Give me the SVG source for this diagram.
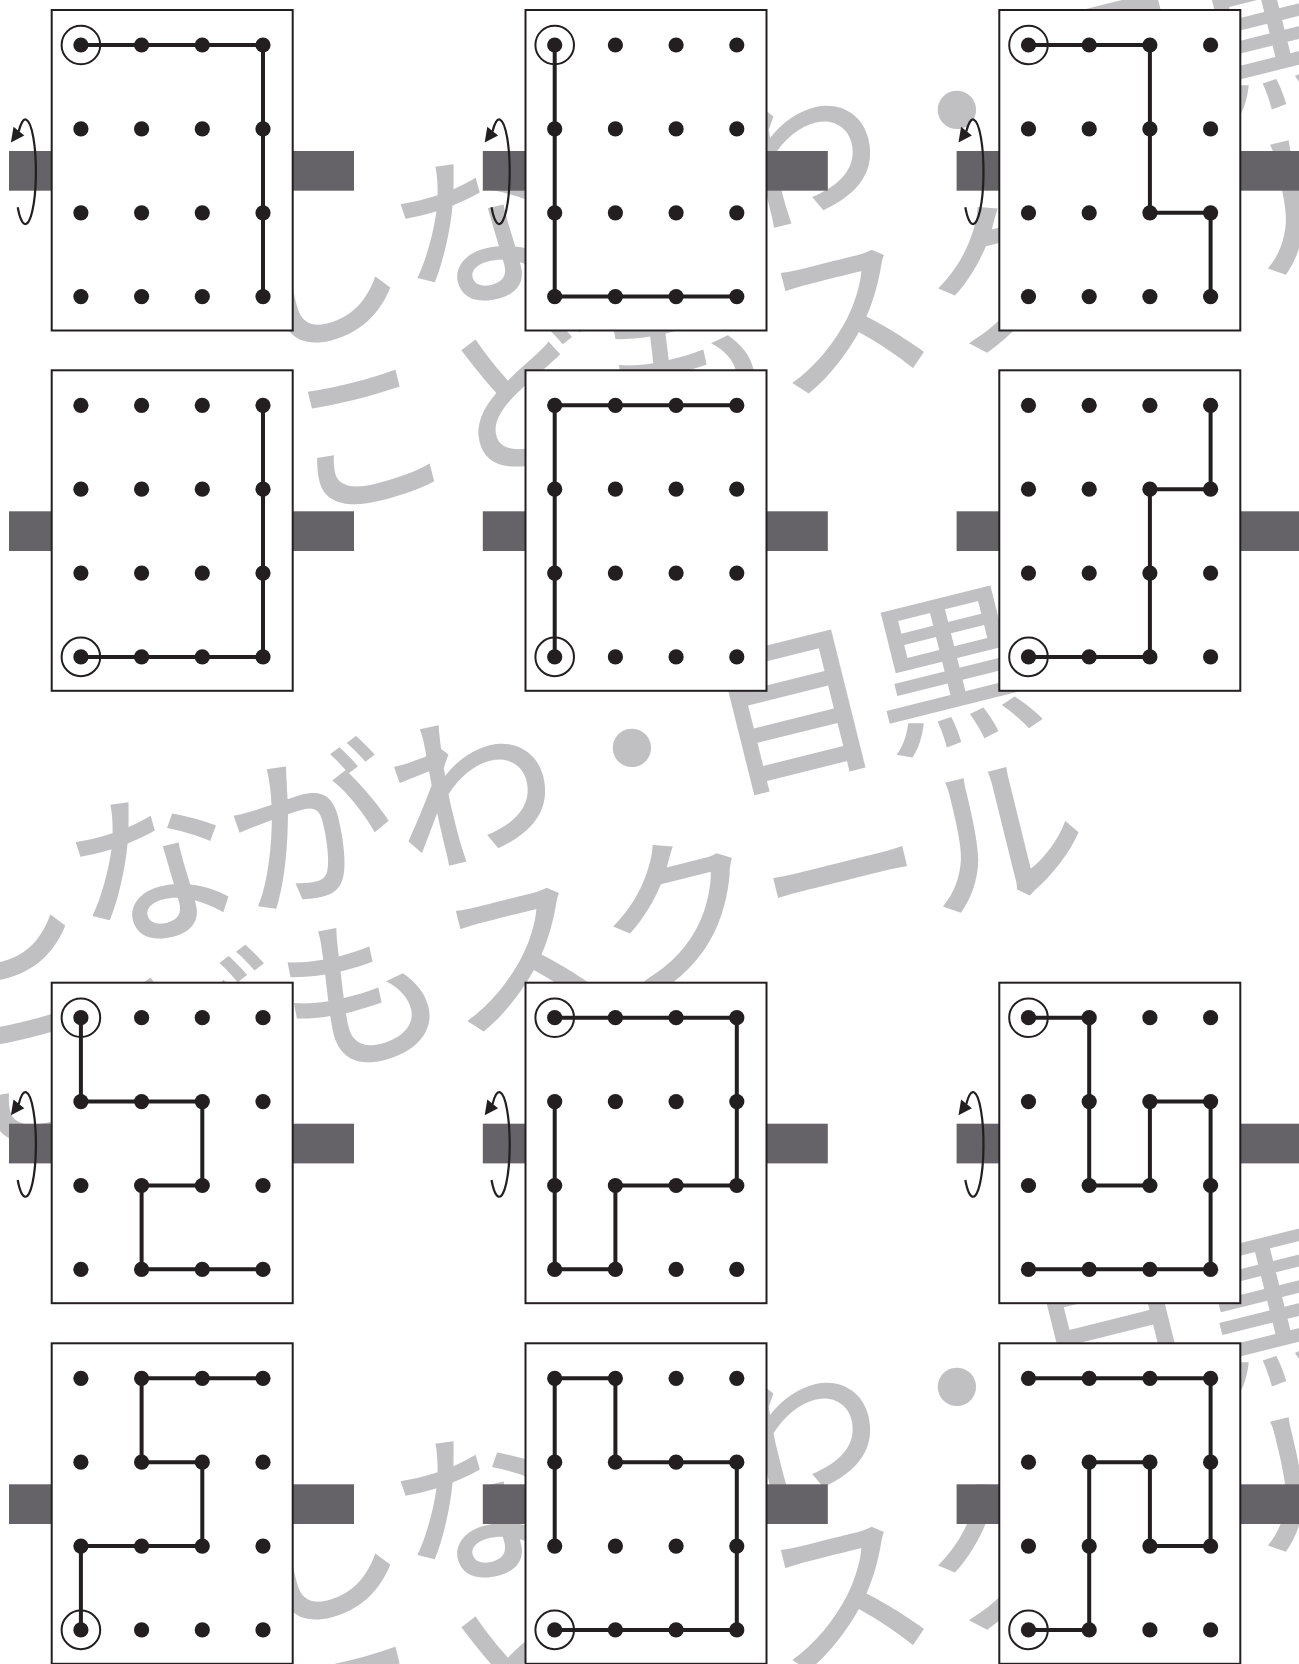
<svg xmlns="http://www.w3.org/2000/svg" width="1299" height="1664" viewBox="0 0 1299 1664">
<style>
.bg{fill:#ffffff}
.wm{font-family:'Noto Sans CJK JP','Noto Sans CJK SC',sans-serif;font-size:165px;font-weight:500;fill:#c0c0c2}
.bar{fill:#656367}
.box{fill:#ffffff;stroke:#231f20;stroke-width:2}
.dot{fill:#231f20}
.route{fill:none;stroke:#231f20;stroke-width:4;stroke-linejoin:miter;stroke-linecap:butt}
.ring{fill:none;stroke:#231f20;stroke-width:2}
.rot{fill:none;stroke:#231f20;stroke-width:2.2}
.rothead{fill:#231f20}
</style>
<defs>
<g id="bars">
<rect class="bar" x="-42.7" y="141" width="43" height="39.7"/>
<rect class="bar" x="241" y="141" width="61.3" height="39.7"/>
</g>
<g id="grid">
<circle class="dot" cx="29.2" cy="35" r="7.6"/><circle class="dot" cx="89.9" cy="35" r="7.6"/><circle class="dot" cx="150.6" cy="35" r="7.6"/><circle class="dot" cx="211.3" cy="35" r="7.6"/>
<circle class="dot" cx="29.2" cy="118.9" r="7.6"/><circle class="dot" cx="89.9" cy="118.9" r="7.6"/><circle class="dot" cx="150.6" cy="118.9" r="7.6"/><circle class="dot" cx="211.3" cy="118.9" r="7.6"/>
<circle class="dot" cx="29.2" cy="202.8" r="7.6"/><circle class="dot" cx="89.9" cy="202.8" r="7.6"/><circle class="dot" cx="150.6" cy="202.8" r="7.6"/><circle class="dot" cx="211.3" cy="202.8" r="7.6"/>
<circle class="dot" cx="29.2" cy="286.6" r="7.6"/><circle class="dot" cx="89.9" cy="286.6" r="7.6"/><circle class="dot" cx="150.6" cy="286.6" r="7.6"/><circle class="dot" cx="211.3" cy="286.6" r="7.6"/>
</g>
<g id="rotarrow">
<path class="rot" d="M -34 197.3 A 10.5 52.3 0 1 0 -33 121.5"/>
<polygon class="rothead" points="-40.8,132.6 -38.2,116.8 -27.4,125.6"/>
</g>
</defs>
<rect class="bg" x="0" y="0" width="1299" height="1664"/>
<g id="watermark">
<g transform="translate(957,110) rotate(-14)">
<text class="wm" x="-742.5" y="62.7">しながわ・目黒</text>
<text class="wm" x="-735.5" y="234">こどもスクール</text>
</g>
<g transform="translate(632,748) rotate(-14)">
<text class="wm" x="-742.5" y="62.7">しながわ・目黒</text>
<text class="wm" x="-735.5" y="234">こどもスクール</text>
</g>
<g transform="translate(957,1387) rotate(-14)">
<text class="wm" x="-742.5" y="62.7">しながわ・目黒</text>
<text class="wm" x="-735.5" y="234">こどもスクール</text>
</g>
</g>
<g id="panel-r1c1" transform="translate(51.7,10)">
<use href="#bars"/><rect class="box" x="0" y="0" width="241" height="320.5"/><use href="#grid"/>
<path class="route" d="M29.2 35H211.3V286.6"/><circle class="ring" cx="29.2" cy="35" r="19.3"/><use href="#rotarrow"/>
</g>
<g id="panel-r1c2" transform="translate(525.5,10)">
<use href="#bars"/><rect class="box" x="0" y="0" width="241" height="320.5"/><use href="#grid"/>
<path class="route" d="M29.2 35V286.6H211.3"/><circle class="ring" cx="29.2" cy="35" r="19.3"/><use href="#rotarrow"/>
</g>
<g id="panel-r1c3" transform="translate(999.3,10)">
<use href="#bars"/><rect class="box" x="0" y="0" width="241" height="320.5"/><use href="#grid"/>
<path class="route" d="M29.2 35H150.6V202.8H211.3V286.6"/><circle class="ring" cx="29.2" cy="35" r="19.3"/><use href="#rotarrow"/>
</g>
<g id="panel-r2c1" transform="translate(51.7,370.3)">
<use href="#bars"/><rect class="box" x="0" y="0" width="241" height="320.5"/><use href="#grid"/>
<path class="route" d="M29.2 286.6H211.3V35"/><circle class="ring" cx="29.2" cy="286.6" r="19.3"/>
</g>
<g id="panel-r2c2" transform="translate(525.5,370.3)">
<use href="#bars"/><rect class="box" x="0" y="0" width="241" height="320.5"/><use href="#grid"/>
<path class="route" d="M29.2 286.6V35H211.3"/><circle class="ring" cx="29.2" cy="286.6" r="19.3"/>
</g>
<g id="panel-r2c3" transform="translate(999.3,370.3)">
<use href="#bars"/><rect class="box" x="0" y="0" width="241" height="320.5"/><use href="#grid"/>
<path class="route" d="M29.2 286.6H150.6V118.9H211.3V35"/><circle class="ring" cx="29.2" cy="286.6" r="19.3"/>
</g>
<g id="panel-r3c1" transform="translate(51.7,982.7)">
<use href="#bars"/><rect class="box" x="0" y="0" width="241" height="320.5"/><use href="#grid"/>
<path class="route" d="M29.2 35V118.9H150.6V202.8H89.9V286.6H211.3"/><circle class="ring" cx="29.2" cy="35" r="19.3"/><use href="#rotarrow"/>
</g>
<g id="panel-r3c2" transform="translate(525.5,982.7)">
<use href="#bars"/><rect class="box" x="0" y="0" width="241" height="320.5"/><use href="#grid"/>
<path class="route" d="M29.2 35H211.3V202.8H89.9V286.6H29.2V118.9"/><circle class="ring" cx="29.2" cy="35" r="19.3"/><use href="#rotarrow"/>
</g>
<g id="panel-r3c3" transform="translate(999.3,982.7)">
<use href="#bars"/><rect class="box" x="0" y="0" width="241" height="320.5"/><use href="#grid"/>
<path class="route" d="M29.2 35H89.9V202.8H150.6V118.9H211.3V286.6H29.2"/><circle class="ring" cx="29.2" cy="35" r="19.3"/><use href="#rotarrow"/>
</g>
<g id="panel-r4c1" transform="translate(51.7,1343.3)">
<use href="#bars"/><rect class="box" x="0" y="0" width="241" height="320.5"/><use href="#grid"/>
<path class="route" d="M29.2 286.6V202.8H150.6V118.9H89.9V35H211.3"/><circle class="ring" cx="29.2" cy="286.6" r="19.3"/>
</g>
<g id="panel-r4c2" transform="translate(525.5,1343.3)">
<use href="#bars"/><rect class="box" x="0" y="0" width="241" height="320.5"/><use href="#grid"/>
<path class="route" d="M29.2 286.6H211.3V118.9H89.9V35H29.2V202.8"/><circle class="ring" cx="29.2" cy="286.6" r="19.3"/>
</g>
<g id="panel-r4c3" transform="translate(999.3,1343.3)">
<use href="#bars"/><rect class="box" x="0" y="0" width="241" height="320.5"/><use href="#grid"/>
<path class="route" d="M29.2 286.6H89.9V118.9H150.6V202.8H211.3V35H29.2"/><circle class="ring" cx="29.2" cy="286.6" r="19.3"/>
</g>
</svg>
